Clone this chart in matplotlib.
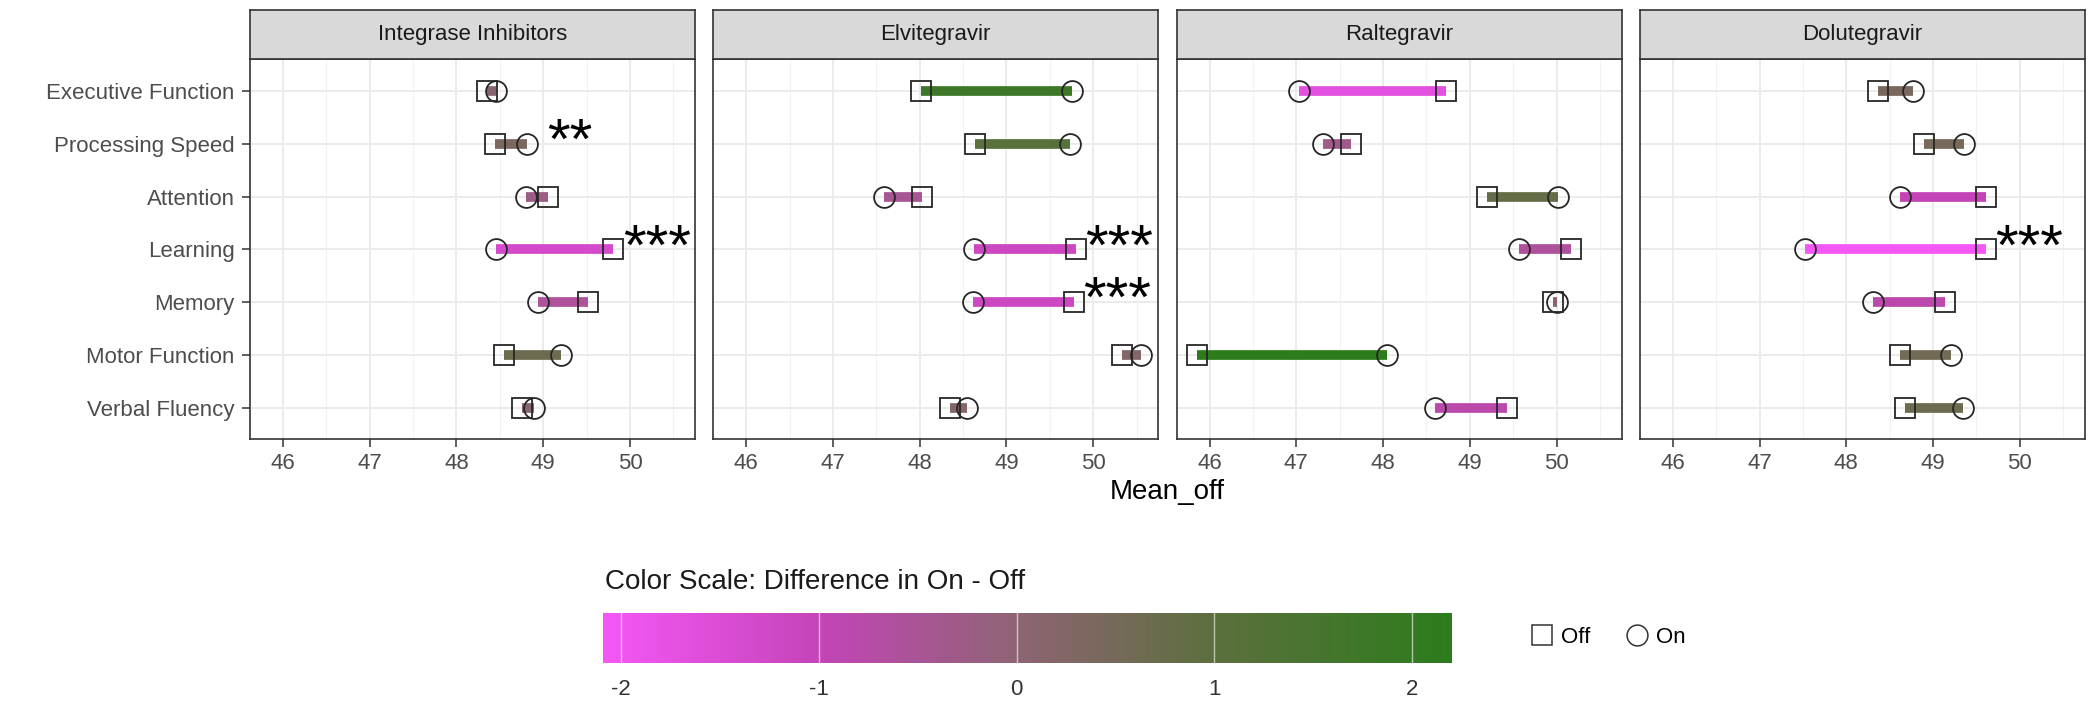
import matplotlib
matplotlib.use('Agg')
import matplotlib.pyplot as plt
import numpy as np
from matplotlib.colors import LinearSegmentedColormap, Normalize
from matplotlib.cm import ScalarMappable
from matplotlib.lines import Line2D

plt.rcParams['font.family'] = ['Liberation Sans', 'DejaVu Sans']
plt.rcParams['axes.unicode_minus'] = False

DRUGS = ['Integrase Inhibitors', 'Elvitegravir', 'Raltegravir', 'Dolutegravir']
DOMAINS = ['Executive Function', 'Processing Speed', 'Attention', 'Learning',
           'Memory', 'Motor Function', 'Verbal Fluency']

# mean T-scores off / on each drug class
OFF_II = [48.35, 48.44, 49.06, 49.81, 49.52, 48.55, 48.75]
ON_II = [48.46, 48.81, 48.80, 48.46, 48.94, 49.21, 48.89]
OFF_EVG = [48.02, 48.64, 48.03, 49.80, 49.78, 50.33, 48.35]
ON_EVG = [49.76, 49.73, 47.59, 48.63, 48.61, 50.55, 48.55]
OFF_RAL = [48.72, 47.63, 49.20, 50.17, 49.96, 45.85, 49.43]
ON_RAL = [47.03, 47.31, 50.02, 49.57, 50.00, 48.05, 48.60]
OFF_DTG = [48.37, 48.90, 49.61, 49.61, 49.14, 48.62, 48.68]
ON_DTG = [48.77, 49.36, 48.62, 47.52, 48.31, 49.21, 49.34]

STARS_II = ['', '**', '', '***', '', '', '']
STARS_EVG = ['', '', '', '***', '***', '', '']
STARS_RAL = ['', '', '', '', '', '', '']
STARS_DTG = ['', '', '', '***', '', '', '']

X_TICKS = [46, 47, 48, 49, 50]
CB_TICKS = [-2, -1, 0, 1, 2]

OFF = [OFF_II, OFF_EVG, OFF_RAL, OFF_DTG]
ON = [ON_II, ON_EVG, ON_RAL, ON_DTG]
STARS = [STARS_II, STARS_EVG, STARS_RAL, STARS_DTG]

W, H = 2088, 701
fig = plt.figure(figsize=(W / 100, H / 100), dpi=100)


def px_box(x0, y0, x1, y1):
    return [x0 / W, 1 - y1 / H, (x1 - x0) / W, (y1 - y0) / H]


diffs = np.array(ON) - np.array(OFF)
norm = Normalize(vmin=diffs.min(), vmax=diffs.max())
cmap = LinearSegmentedColormap.from_list('onoff', [
    (0.0, '#F457F6'),
    (float(norm(-1)), '#C444B8'),
    (float(norm(0)), '#8E6474'),
    (float(norm(1)), '#5C6F3D'),
    (1.0, '#2C7C1C'),
])

PANEL_W, GAP, LEFT = 445, 18.3, 250
STRIP_TOP, TOP, BOTTOM = 10, 59.3, 439.3
XLIM = (45.62, 50.75)
rows = np.arange(len(DOMAINS))

for i, drug in enumerate(DRUGS):
    x0 = LEFT + i * (PANEL_W + GAP)
    ax = fig.add_axes(px_box(x0, TOP, x0 + PANEL_W, BOTTOM))
    off = np.array(OFF[i])
    on = np.array(ON[i])

    seg = ax.hlines(rows, off, on, colors=cmap(norm(on - off)), linewidth=7, zorder=2)
    seg.set_capstyle('butt')
    ax.plot(off, rows, ls='', marker='s', ms=14.5, mfc='none', mec='#262626', mew=1.3, zorder=3)
    ax.plot(on, rows, ls='', marker='o', ms=15, mfc='none', mec='#262626', mew=1.3, zorder=3)
    for r, s in enumerate(STARS[i]):
        if s:
            ax.text(max(off[r], on[r]) + 0.5, r, s, ha='center', va='center',
                    fontsize=42, color='black', zorder=4)

    ax.set_xlim(*XLIM)
    ax.set_ylim(len(DOMAINS) - 0.4, -0.6)
    ax.set_xticks(X_TICKS)
    ax.set_xticks(np.arange(46.5, 51, 1.0), minor=True)
    ax.set_yticks(rows)
    ax.set_yticklabels(DOMAINS)
    ax.grid(which='major', color='#EBEBEB', linewidth=1.4)
    ax.grid(which='minor', axis='x', color='#F2F2F2', linewidth=0.8)
    ax.set_axisbelow(True)
    ax.tick_params(which='minor', length=0)
    ax.tick_params(which='major', length=6, width=1.1, color='#333333',
                   labelsize=16, labelcolor='#4D4D4D', pad=4)
    ax.tick_params(axis='y', pad=5)
    if i > 0:
        ax.tick_params(axis='y', left=False, labelleft=False)
    for sp in ax.spines.values():
        sp.set_color('#333333')
        sp.set_linewidth(1.2)

    sax = fig.add_axes(px_box(x0, STRIP_TOP, x0 + PANEL_W, TOP))
    sax.set_facecolor('#D9D9D9')
    sax.set_xticks([])
    sax.set_yticks([])
    for sp in sax.spines.values():
        sp.set_color('#333333')
        sp.set_linewidth(1.2)
    sax.text(0.5, 0.5, drug, ha='center', va='center', fontsize=16,
             color='#1A1A1A', transform=sax.transAxes)

fig.text((LEFT + (4 * PANEL_W + 3 * GAP) / 2) / W, 1 - 492 / H, 'Mean_off',
         ha='center', va='center', fontsize=20)

# colour bar for the on - off difference
cax = fig.add_axes(px_box(603.3, 612.7, 1451.7, 662.7))
cb = fig.colorbar(ScalarMappable(norm=norm, cmap=cmap), cax=cax, orientation='horizontal')
cb.outline.set_visible(False)
cb.set_ticks(CB_TICKS)
cax.tick_params(length=0, labelsize=16, labelcolor='#333333', pad=12)
for v in CB_TICKS:
    cax.axvline(v, color='white', linewidth=1, alpha=0.6)
fig.text(605 / W, 1 - 582 / H, 'Color Scale: Difference in On - Off',
         ha='left', va='center', fontsize=20, color='#1A1A1A')

handles = [
    Line2D([], [], ls='', marker='s', ms=15, mfc='none', mec='#333333', mew=1.1, label='Off'),
    Line2D([], [], ls='', marker='o', ms=15, mfc='none', mec='#333333', mew=1.1, label='On'),
]
fig.legend(handles=handles, loc='center left', bbox_to_anchor=(1530.7 / W, 1 - 637.7 / H),
           ncol=2, frameon=False, handlelength=1.0, handletextpad=0.36, columnspacing=1.6,
           borderpad=0, borderaxespad=0, fontsize=16)

fig.savefig('out.png', dpi=100)
